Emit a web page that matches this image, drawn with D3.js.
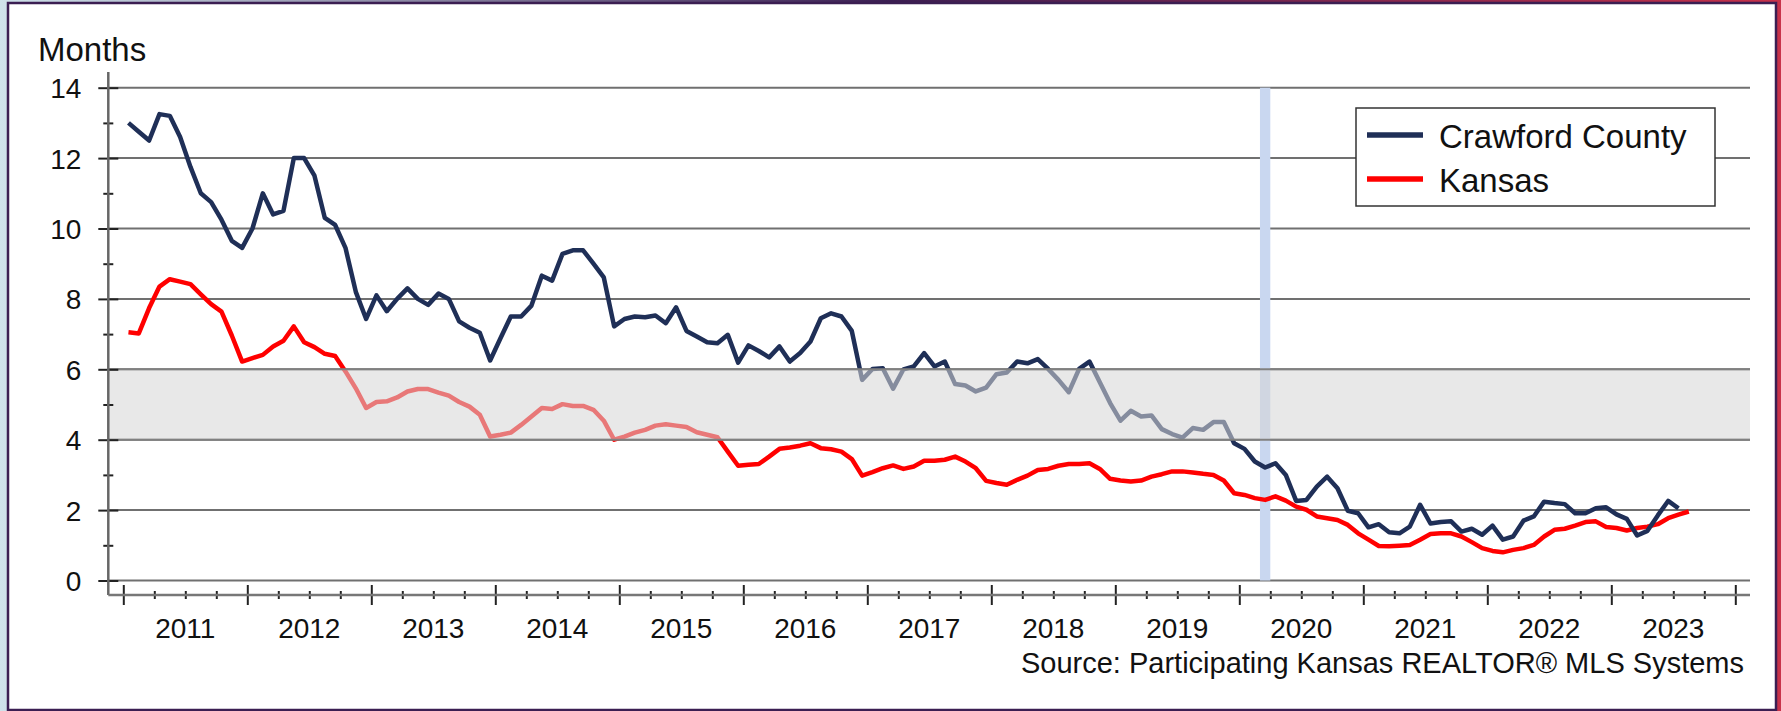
<!DOCTYPE html>
<html>
<head>
<meta charset="utf-8">
<script src="https://cdn.jsdelivr.net/npm/d3@7"></script>
<style>
  html, body { margin: 0; padding: 0; background: #fff; }
  svg { display: block; font-family: "Liberation Sans", Arial, sans-serif; }
</style>
</head>
<body>
<svg id="chart"></svg>
<script>
// months supply of inventory, monthly from Jan 2011
const years = [2011, 2012, 2013, 2014, 2015, 2016, 2017, 2018, 2019, 2020, 2021, 2022, 2023];
const yTicks = [0, 2, 4, 6, 8, 10, 12, 14];
const seriesNames = ["Crawford County", "Kansas"];

const crawford = [
  13.0, 12.75, 12.5, 13.25, 13.2, 12.6, 11.75, 11.0, 10.75, 10.25, 9.65, 9.45,
  10.0, 11.0, 10.4, 10.5, 12.0, 12.0, 11.5, 10.3, 10.1, 9.45, 8.2, 7.43,
  8.1, 7.65, 8.0, 8.3, 8.0, 7.83, 8.15, 8.0, 7.36, 7.18, 7.04, 6.25,
  6.88, 7.5, 7.5, 7.81, 8.66, 8.52, 9.28, 9.38, 9.38, 9.0, 8.61, 7.22,
  7.43, 7.5, 7.48, 7.53, 7.31, 7.76, 7.09, 6.93, 6.77, 6.74, 6.98, 6.19,
  6.68, 6.52, 6.34, 6.65, 6.22, 6.46, 6.79, 7.45, 7.59, 7.5, 7.09, 5.7,
  6.01, 6.03, 5.45, 6.0, 6.08, 6.46, 6.08, 6.22, 5.58, 5.54, 5.37, 5.48,
  5.86, 5.91, 6.22, 6.17, 6.29, 6.01, 5.7, 5.35, 6.01, 6.22, 5.63, 5.04,
  4.54, 4.82, 4.66, 4.69, 4.3, 4.16, 4.06, 4.33, 4.28, 4.5, 4.5, 3.9,
  3.74, 3.38, 3.21, 3.33, 3.0, 2.26, 2.29, 2.67, 2.95, 2.62, 1.98, 1.91,
  1.51, 1.6, 1.37, 1.34, 1.53, 2.15, 1.62, 1.66, 1.68, 1.39, 1.47, 1.3,
  1.56, 1.16, 1.25, 1.7, 1.82, 2.24, 2.2, 2.17, 1.91, 1.91, 2.05, 2.08,
  1.88, 1.75, 1.28, 1.41, 1.85, 2.26, 2.05
];

const kansas = [
  7.05, 7.02, 7.74, 8.35, 8.56, 8.49, 8.42, 8.13, 7.85, 7.64, 6.96, 6.22,
  6.32, 6.41, 6.65, 6.81, 7.22, 6.77, 6.63, 6.44, 6.38, 5.94, 5.46, 4.9,
  5.07, 5.09, 5.2, 5.37, 5.44, 5.44, 5.34, 5.25, 5.07, 4.94, 4.71, 4.09,
  4.14, 4.2, 4.42, 4.66, 4.9, 4.87, 5.01, 4.96, 4.96, 4.85, 4.54, 4.0,
  4.09, 4.2, 4.28, 4.4, 4.44, 4.4, 4.36, 4.21, 4.14, 4.07, 3.66, 3.26,
  3.29, 3.31, 3.52, 3.74, 3.78, 3.83, 3.9, 3.76, 3.73, 3.66, 3.45, 2.98,
  3.08, 3.19, 3.27, 3.17, 3.24, 3.4, 3.4, 3.43, 3.52, 3.38, 3.19, 2.83,
  2.77, 2.72, 2.86, 2.98, 3.14, 3.17, 3.26, 3.31, 3.31, 3.33, 3.17, 2.89,
  2.84, 2.81, 2.84, 2.95, 3.02, 3.1, 3.1, 3.07, 3.03, 3.0, 2.84, 2.48,
  2.43, 2.34, 2.29, 2.39, 2.27, 2.1, 2.01, 1.82, 1.77, 1.72, 1.58, 1.34,
  1.16, 0.98, 0.97, 0.99, 1.01, 1.16, 1.32, 1.34, 1.34, 1.25, 1.09, 0.92,
  0.84, 0.8, 0.87, 0.92, 1.01, 1.25, 1.44, 1.47, 1.56, 1.66, 1.68, 1.52,
  1.49, 1.42, 1.49, 1.53, 1.6, 1.77, 1.87, 1.96
];

// balanced market band (months) and the highlighted month (Mar 2020, index from Jan 2011)
const balancedBand = [4, 6];
const markerMonth = 110;

function renderChart(node) {
  const W = 1781, H = 711;
  const axisX = 108.3, axisY = 595, gridRight = 1750;
  const navy = "#1f2f57", red = "#ff0000";

  const svg = d3.select(node).attr("width", W).attr("height", H);

  // outer frame
  const defs = svg.append("defs");
  const grad = defs.append("linearGradient").attr("id", "edge");
  grad.append("stop").attr("offset", "0%").attr("stop-color", "#cfe2ea");
  grad.append("stop").attr("offset", "50%").attr("stop-color", "#3b1e52");
  grad.append("stop").attr("offset", "100%").attr("stop-color", "#c8324a");
  svg.append("rect").attr("width", W).attr("height", H).attr("fill", "url(#edge)");
  svg.append("rect")
    .attr("x", 8).attr("y", 3).attr("width", 1768).attr("height", 707)
    .attr("fill", "#fff").attr("stroke", "#3b1e52").attr("stroke-width", 2.5);

  const months = years.length * 12;
  const x = d3.scaleLinear().domain([0, months]).range([123.3, 1735.3]);
  const y = d3.scaleLinear().domain([0, 14]).range([580.5, 87.7]);

  // gridlines
  svg.append("g")
    .selectAll("line")
    .data(yTicks)
    .join("line")
    .attr("x1", axisX).attr("x2", gridRight)
    .attr("y1", d => y(d)).attr("y2", d => y(d))
    .attr("stroke", "#707070").attr("stroke-width", 2);

  // highlighted month
  svg.append("rect")
    .attr("x", x(markerMonth)).attr("width", x(markerMonth + 1) - x(markerMonth))
    .attr("y", y(14)).attr("height", y(0) - y(14))
    .attr("fill", "#c9d7f0");

  const line = d3.line()
    .x((d, i) => x(i + 0.5))
    .y(d => y(d));

  svg.append("path")
    .datum(kansas)
    .attr("d", line)
    .attr("fill", "none").attr("stroke", red)
    .attr("stroke-width", 4.5).attr("stroke-linejoin", "round");

  svg.append("path")
    .datum(crawford)
    .attr("d", line)
    .attr("fill", "none").attr("stroke", navy)
    .attr("stroke-width", 4.5).attr("stroke-linejoin", "round");

  // balanced band overlay
  svg.append("rect")
    .attr("x", axisX).attr("width", gridRight - axisX)
    .attr("y", y(balancedBand[1])).attr("height", y(balancedBand[0]) - y(balancedBand[1]))
    .attr("fill", "rgb(214,214,214)").attr("fill-opacity", 0.56);
  svg.append("g")
    .selectAll("line")
    .data(balancedBand)
    .join("line")
    .attr("x1", axisX).attr("x2", gridRight)
    .attr("y1", d => y(d)).attr("y2", d => y(d))
    .attr("stroke", "#808080").attr("stroke-width", 2);

  // y axis
  const yAxis = svg.append("g")
    .attr("transform", `translate(${axisX},0)`)
    .call(d3.axisLeft(y)
      .tickValues(d3.range(0, 15))
      .tickSize(10)
      .tickPadding(17)
      .tickFormat(d => d % 2 === 0 ? d : ""));
  yAxis.select(".domain").remove();
  yAxis.selectAll(".tick line")
    .attr("x1", d => d % 2 === 0 ? 10 : 5)
    .attr("x2", d => d % 2 === 0 ? -10 : -5)
    .attr("stroke", "#222").attr("stroke-width", 2);
  yAxis.selectAll(".tick text")
    .attr("fill", "#111").style("font-size", "28px")
    .attr("dy", "0.36em");
  svg.append("line")
    .attr("x1", axisX).attr("x2", axisX).attr("y1", 72).attr("y2", axisY)
    .attr("stroke", "#666").attr("stroke-width", 2.5);

  // x axis
  const xAxis = svg.append("g")
    .attr("transform", `translate(0,${axisY})`)
    .call(d3.axisBottom(x)
      .tickValues(d3.range(0, months + 1, 3))
      .tickSize(10)
      .tickFormat(""));
  xAxis.select(".domain").remove();
  xAxis.selectAll(".tick line")
    .attr("y1", d => d % 12 === 0 ? -10 : -4)
    .attr("y2", d => d % 12 === 0 ? 10 : 4)
    .attr("stroke", "#222").attr("stroke-width", 2);
  svg.append("line")
    .attr("x1", axisX).attr("x2", gridRight).attr("y1", axisY).attr("y2", axisY)
    .attr("stroke", "#777").attr("stroke-width", 2.5);

  svg.append("g")
    .selectAll("text")
    .data(years)
    .join("text")
    .attr("x", (d, i) => x(i * 12 + 6))
    .attr("y", 638)
    .attr("text-anchor", "middle")
    .attr("fill", "#111")
    .style("font-size", "28px")
    .text(d => d);

  svg.append("text")
    .attr("x", 38).attr("y", 61)
    .attr("fill", "#111").style("font-size", "33px")
    .text("Months");

  svg.append("text")
    .attr("x", 1744).attr("y", 673)
    .attr("text-anchor", "end")
    .attr("fill", "#111").style("font-size", "29px")
    .text("Source: Participating Kansas REALTOR® MLS Systems");

  // legend
  const legend = svg.append("g");
  legend.append("rect")
    .attr("x", 1356).attr("y", 108).attr("width", 359).attr("height", 98)
    .attr("fill", "#fff").attr("stroke", "#333").attr("stroke-width", 1.5);
  const items = legend.selectAll("g.item")
    .data(seriesNames)
    .join("g")
    .attr("class", "item")
    .attr("transform", (d, i) => `translate(0,${135 + i * 44})`);
  items.append("line")
    .attr("x1", 1367).attr("x2", 1423)
    .attr("stroke", (d, i) => i === 0 ? navy : red)
    .attr("stroke-width", 5.5);
  items.append("text")
    .attr("x", 1439).attr("y", 13)
    .attr("fill", "#111").style("font-size", "33px")
    .text(d => d);
}

renderChart(document.getElementById("chart"));
</script>
</body>
</html>
